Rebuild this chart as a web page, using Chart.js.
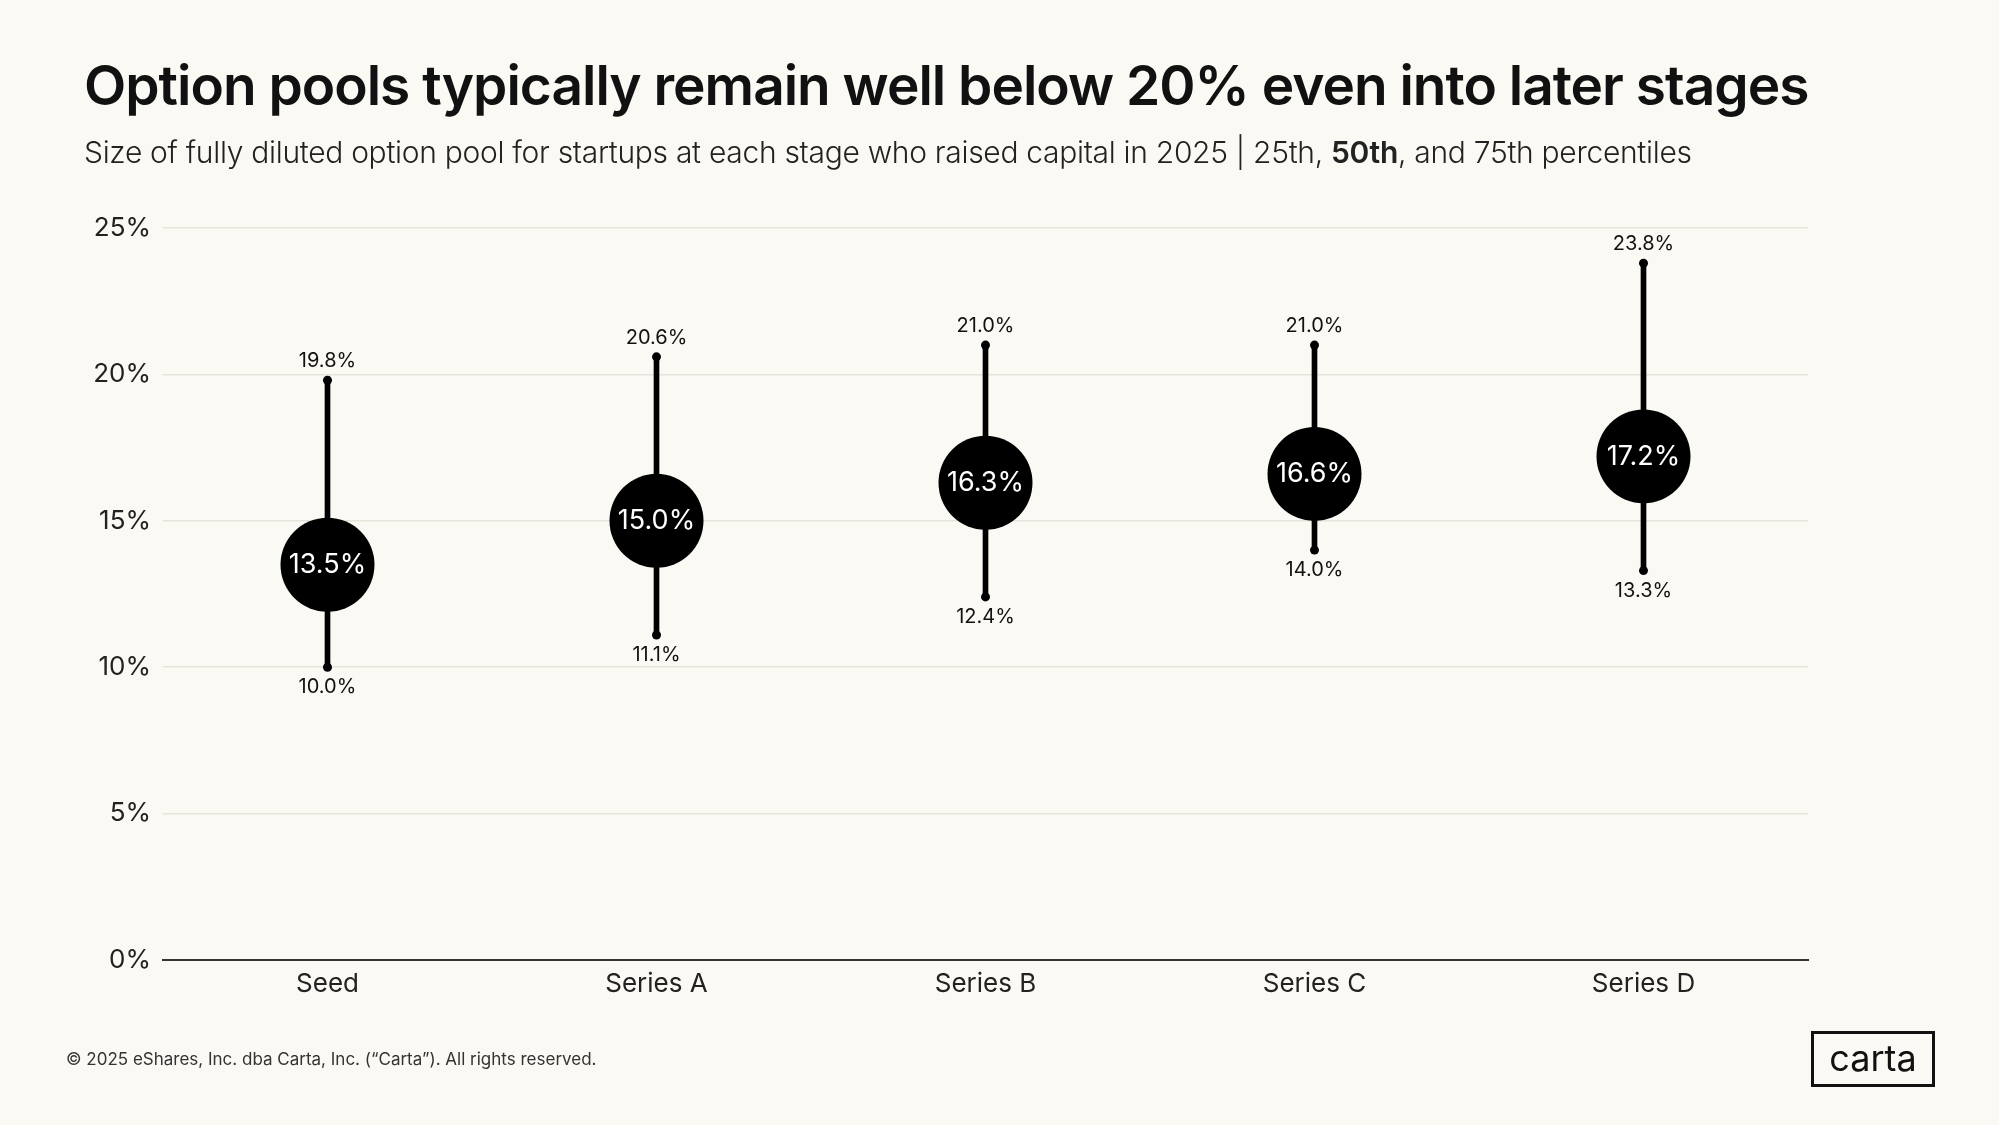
<!DOCTYPE html>
<html>
<head>
<meta charset="utf-8">
<script src="https://cdn.jsdelivr.net/npm/chart.js@4"></script>
<style>
  body { margin: 0; background: #FBF9F3; font-family: Inter, "Noto Sans", sans-serif; color: #111; }
  #wrap { position: relative; width: 1999px; height: 1125px; overflow: hidden; }
  #chart { position: absolute; left: 0; top: 0; }
  .title { position: absolute; left: 84px; top: 52px; font-size: 55px; font-weight: 600; letter-spacing: -1px; }
  .sub { position: absolute; left: 84px; top: 134px; font-size: 30px; font-weight: 300; color: #222; letter-spacing: -0.3px; }
  .sub b { font-weight: 600; }
  .foot { position: absolute; left: 66px; top: 1049px; font-size: 17px; color: #333; }
  .logo { position: absolute; left: 1811px; top: 1031px; width: 118px; height: 50px; border: 3px solid #111;
          font-size: 36px; text-align: center; line-height: 48px; }
</style>
</head>
<body>
<div id="wrap">
  <canvas id="chart" width="1999" height="1125"></canvas>
  <div class="title">Option pools typically remain well below 20% even into later stages</div>
  <div class="sub">Size of fully diluted option pool for startups at each stage who raised capital in 2025 | 25th, <b>50th</b>, and 75th percentiles</div>
  <div class="foot">© 2025 eShares, Inc. dba Carta, Inc. (“Carta”). All rights reserved.</div>
  <div class="logo">carta</div>
</div>
<script>
// Dados do gráfico
const stages = ['Seed', 'Series A', 'Series B', 'Series C', 'Series D'];
const p25 = [10.0, 11.1, 12.4, 14.0, 13.3];
const p50 = [13.5, 15.0, 16.3, 16.6, 17.2];
const p75 = [19.8, 20.6, 21.0, 21.0, 23.8];

const FONT = 'Inter, "Noto Sans", sans-serif';

// Escreve os rótulos de cada percentil
const labelPlugin = {
  id: 'labels',
  afterDatasetsDraw(chart) {
    const { ctx, scales: { x, y } } = chart;
    ctx.save();
    ctx.textAlign = 'center';
    stages.forEach((s, i) => {
      const cx = x.getPixelForValue(i);
      ctx.fillStyle = '#111';
      ctx.font = '20px ' + FONT;
      ctx.textBaseline = 'bottom';
      ctx.fillText(p75[i].toFixed(1) + '%', cx, y.getPixelForValue(p75[i]) - 9);
      ctx.textBaseline = 'top';
      ctx.fillText(p25[i].toFixed(1) + '%', cx, y.getPixelForValue(p25[i]) + 10);
      ctx.fillStyle = '#fff';
      ctx.font = '27px ' + FONT;
      ctx.textBaseline = 'middle';
      ctx.fillText(p50[i].toFixed(1) + '%', cx, y.getPixelForValue(p50[i]));
    });
    ctx.restore();
  }
};

new Chart(document.getElementById('chart').getContext('2d'), {
  data: {
    labels: stages,
    datasets: [
      { type: 'line', data: p50, showLine: false, pointRadius: 47, pointBackgroundColor: '#000', pointBorderWidth: 0, order: 0 },
      { type: 'line', data: p75, showLine: false, pointRadius: 4.5, pointBackgroundColor: '#000', pointBorderWidth: 0, order: 1 },
      { type: 'line', data: p25, showLine: false, pointRadius: 4.5, pointBackgroundColor: '#000', pointBorderWidth: 0, order: 1 },
      { type: 'bar', data: stages.map((s, i) => [p25[i], p75[i]]), backgroundColor: '#000', barThickness: 5, order: 2 }
    ]
  },
  options: {
    responsive: false,
    animation: false,
    layout: { padding: { top: 228, right: 191, bottom: 100, left: 0 } },
    plugins: { legend: { display: false }, tooltip: { enabled: false } },
    scales: {
      x: {
        grid: { display: false },
        border: { color: '#333', width: 2 },
        ticks: { color: '#222', font: { family: FONT, size: 26 }, padding: 1 },
        afterFit: s => { s.height = 65; }
      },
      y: {
        min: 0, max: 25,
        ticks: { stepSize: 5, color: '#222', font: { family: FONT, size: 26 }, padding: 12, callback: v => v + '%' },
        grid: { color: '#E6E3DA', lineWidth: 1.5, drawTicks: false },
        border: { display: false },
        afterFit: s => { s.width = 163; }
      }
    }
  },
  plugins: [labelPlugin]
});
</script>
</body>
</html>
